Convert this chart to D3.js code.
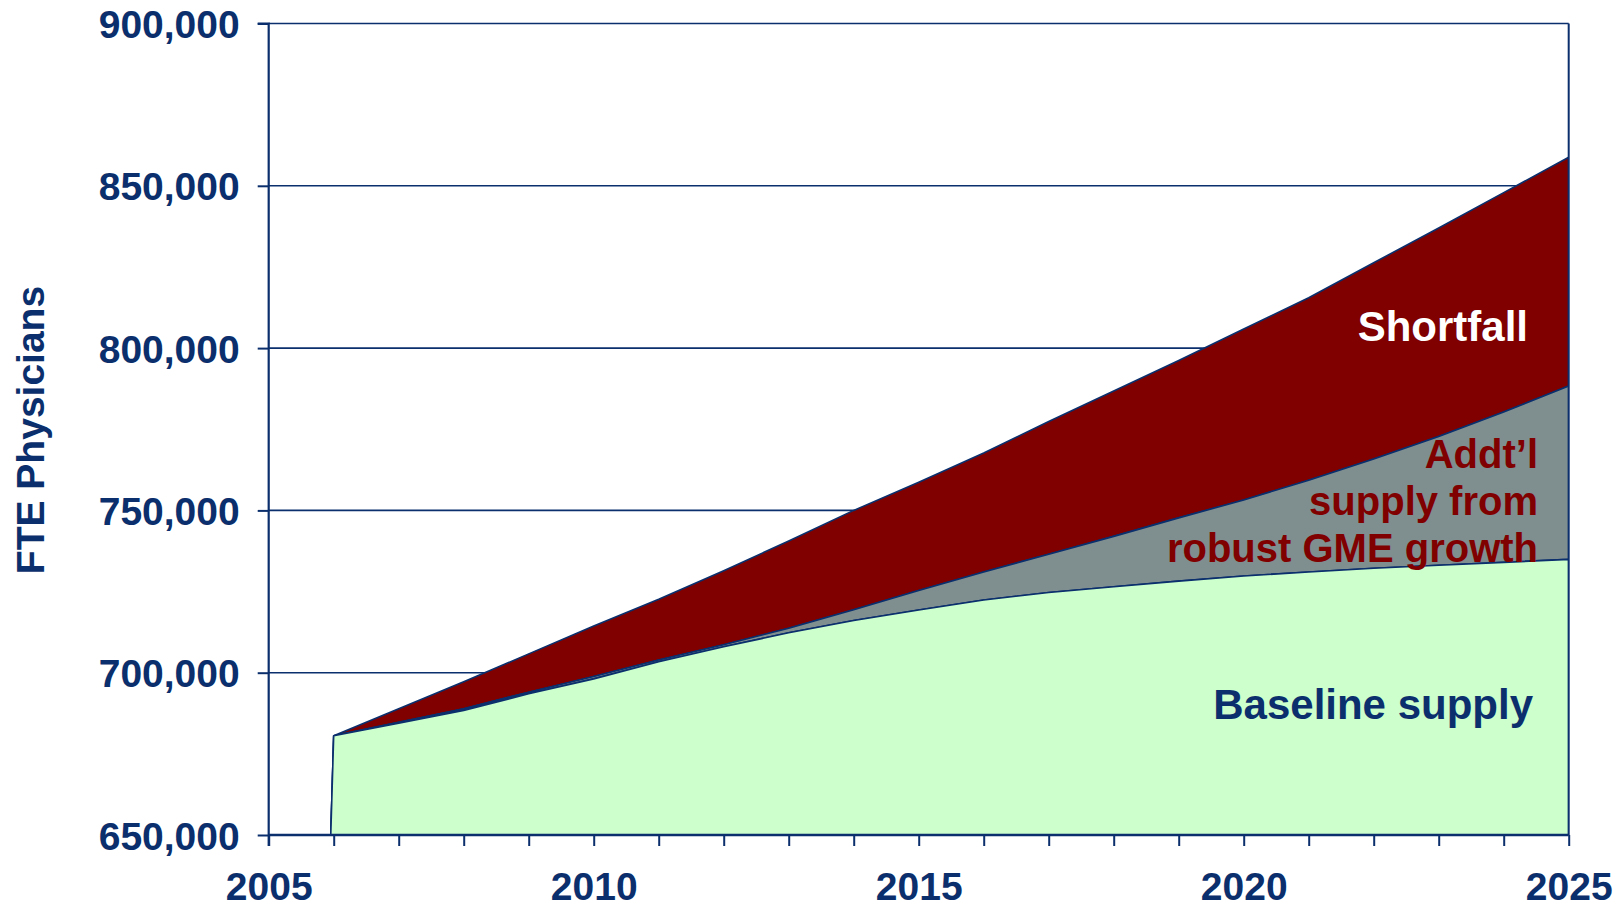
<!DOCTYPE html>
<html>
<head>
<meta charset="utf-8">
<script src="https://cdn.jsdelivr.net/npm/d3@7/dist/d3.min.js"></script>
<style>
  html, body { margin: 0; padding: 0; background: #ffffff; }
  svg { display: block; }
  text { font-family: "Liberation Sans", Arial, Helvetica, sans-serif; font-weight: bold; }
</style>
</head>
<body>
<svg id="chart" width="1622" height="910"></svg>
<script>
// Physician supply and demand projections, 2005-2025 (FTE physicians)
const years = [2005, 2006, 2007, 2008, 2009, 2010, 2011, 2012, 2013, 2014, 2015,
               2016, 2017, 2018, 2019, 2020, 2021, 2022, 2023, 2024, 2025];

// Baseline supply
const baselineSupply = [0, 680600, 684400, 688400, 693500, 698100, 703400, 708000, 712300, 716100, 719300,
                        722400, 724700, 726500, 728200, 729800, 731000, 732200, 733100, 734000, 734900];

// Baseline plus additional supply from robust GME growth
const gmeSupply = [0, 680600, 684700, 688900, 694000, 698800, 703900, 708600, 713700, 719400, 725300,
                   731000, 736500, 742000, 747700, 753200, 759300, 765800, 772800, 780300, 788300];

// Projected demand (top of the shortfall band)
const demand = [0, 680600, 688900, 697200, 705800, 714400, 722600, 731400, 740600, 750000, 758700,
                767700, 777400, 786800, 796200, 805900, 815500, 826300, 837000, 847900, 858800];

const yTicks = [650000, 700000, 750000, 800000, 850000, 900000];
const xLabelYears = [2005, 2010, 2015, 2020, 2025];

const bandLabels = {
  shortfall: ["Shortfall"],
  gme: ["Addt\u2019l", "supply from", "robust GME growth"],
  baseline: ["Baseline supply"]
};

const navy = "#0b2f6c";
const colors = { shortfall: "#800000", gme: "#7f8f90", baseline: "#ccffcc" };

const svg = d3.select("#chart");
const plotLeft = 268.7, plotRight = 1568.7, plotTop = 23.5, plotBottom = 835;

const x = d3.scaleLinear().domain([2005, 2025]).range([plotLeft, plotRight]);
const y = d3.scaleLinear().domain([650000, 900000]).range([plotBottom, plotTop]);

svg.append("defs").append("clipPath").attr("id", "plot-clip")
  .append("rect").attr("x", plotLeft).attr("y", plotTop)
  .attr("width", plotRight - plotLeft).attr("height", plotBottom - plotTop);

// Horizontal gridlines
svg.append("g").selectAll("line")
  .data(yTicks.filter(v => v > 650000))
  .join("line")
  .attr("x1", plotLeft).attr("x2", plotRight)
  .attr("y1", d => y(d)).attr("y2", d => y(d))
  .attr("stroke", navy).attr("stroke-width", 1.6);

// Stacked bands
const rows = years.map((yr, i) => ({ yr, base: baselineSupply[i], gme: gmeSupply[i], dem: demand[i] }));
const plot = svg.append("g").attr("clip-path", "url(#plot-clip)");

const bands = [
  { key: "shortfall", lo: d => d.gme, hi: d => d.dem },
  { key: "gme", lo: d => d.base, hi: d => d.gme },
  { key: "baseline", lo: d => 0, hi: d => d.base }
];

bands.forEach(b => {
  const area = d3.area()
    .x(d => x(d.yr))
    .y0(d => y(b.lo(d)))
    .y1(d => y(b.hi(d)));
  plot.append("path")
    .datum(rows)
    .attr("d", area)
    .attr("fill", colors[b.key])
    .attr("stroke", navy)
    .attr("stroke-width", 1.6)
    .attr("stroke-linejoin", "round");
});

// Right frame line
svg.append("line")
  .attr("x1", plotRight).attr("x2", plotRight).attr("y1", plotTop).attr("y2", plotBottom)
  .attr("stroke", navy).attr("stroke-width", 2);

// Y axis
const yAxis = d3.axisLeft(y)
  .tickValues(yTicks)
  .tickSize(11)
  .tickPadding(18)
  .tickFormat(d3.format(","));
const gy = svg.append("g").attr("transform", `translate(${plotLeft},0)`).call(yAxis);
gy.select(".domain").attr("stroke", navy).attr("stroke-width", 2.2)
  .attr("d", `M-11,${plotTop}H0V${plotBottom + 11}`);
gy.selectAll(".tick line").attr("stroke", navy).attr("stroke-width", 2);
gy.selectAll(".tick text")
  .attr("fill", navy)
  .attr("font-size", 39)
  .attr("dy", "0.36em");

// X axis
const xAxis = d3.axisBottom(x)
  .tickValues(years)
  .tickSize(11)
  .tickPadding(26)
  .tickFormat(d => xLabelYears.includes(d) ? String(d) : "");
const gx = svg.append("g").attr("transform", `translate(0,${plotBottom})`).call(xAxis);
gx.select(".domain").attr("stroke", navy).attr("stroke-width", 2.5)
  .attr("d", `M${plotLeft},0H${plotRight}`);
gx.selectAll(".tick line").attr("stroke", navy).attr("stroke-width", 2);
gx.selectAll(".tick text")
  .attr("fill", navy)
  .attr("font-size", 39);

// Y axis title
svg.append("text")
  .attr("transform", "translate(44,430) rotate(-90)")
  .attr("text-anchor", "middle")
  .attr("fill", navy)
  .attr("font-size", 39)
  .text("FTE Physicians");

// Band labels
svg.append("text")
  .attr("x", 1528).attr("y", 341)
  .attr("text-anchor", "end")
  .attr("fill", "#ffffff")
  .attr("font-size", 42)
  .text(bandLabels.shortfall[0]);

const gmeText = svg.append("text")
  .attr("text-anchor", "end")
  .attr("fill", colors.shortfall)
  .attr("font-size", 40);
bandLabels.gme.forEach((line, i) => {
  gmeText.append("tspan")
    .attr("x", 1538)
    .attr("y", 468 + i * 46.8)
    .text(line);
});

svg.append("text")
  .attr("x", 1533).attr("y", 719)
  .attr("text-anchor", "end")
  .attr("fill", navy)
  .attr("font-size", 42)
  .text(bandLabels.baseline[0]);
</script>
</body>
</html>
